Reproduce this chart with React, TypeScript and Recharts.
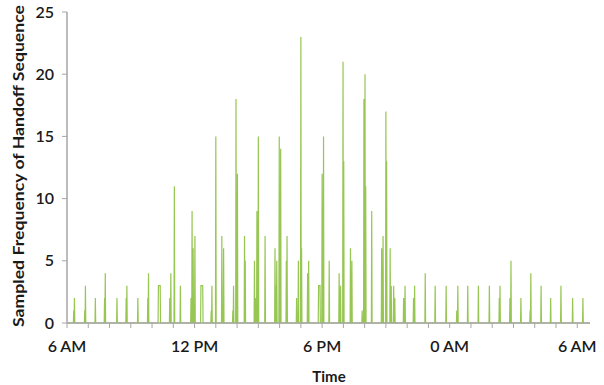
import React from 'react';
import { LineChart, Line, XAxis, YAxis, Label } from 'recharts';

// minutes after 6 AM at which handoffs were sampled, and the count at that minute
const spikeMinute = [
  19, 21, 50, 52, 80, 106, 108, 141, 167, 169, 200, 228, 230,
  258, 259, 260, 261, 262, 263, 290, 293, 303, 320,
  350, 353, 356, 361, 378, 379, 380, 381, 382, 383, 407, 409, 420,
  437, 442, 468, 470, 477, 481, 501, 503, 529, 532, 536, 540, 559,
  587, 590, 592, 599, 603, 619, 621, 648, 653, 660, 662, 679, 682,
  710, 711, 712, 713, 714, 720, 724, 740, 768, 772, 779, 781, 800, 804,
  833, 838, 841, 843, 860, 888, 892, 900, 902, 912, 915, 922, 925,
  950, 954, 978, 981, 1011, 1039, 1070, 1100, 1103, 1131, 1161, 1192,
  1220, 1222, 1250, 1253, 1281, 1307, 1309, 1338, 1365, 1394, 1427, 1456,
];
const spikeCount = [
  1, 2, 1, 3, 2, 2, 4, 2, 2, 3, 2, 2, 4,
  3, 3, 3, 3, 3, 3, 2, 4, 11, 3,
  2, 9, 6, 7, 3, 3, 3, 3, 3, 3, 1, 3, 15,
  7, 6, 1, 3, 18, 12, 7, 5, 5, 2, 9, 15, 7,
  6, 3, 5, 15, 14, 5, 7, 2, 5, 23, 6, 4, 5,
  3, 3, 3, 3, 3, 12, 15, 5, 4, 3, 21, 13, 6, 5,
  1, 18, 20, 11, 9, 6, 7, 17, 13, 6, 3, 3, 2,
  2, 3, 2, 3, 4, 3, 3, 1, 3, 3, 3, 3,
  2, 3, 2, 5, 2, 1, 4, 3, 2, 3, 2, 2,
];
const lastMinute = 1476;

const hourTicks = [
  0, 60, 120, 180, 240, 300, 360, 420, 480, 540, 600, 660, 720,
  780, 840, 900, 960, 1020, 1080, 1140, 1200, 1260, 1320, 1380, 1440,
];
const labelMinutes = [0, 360, 720, 1080, 1440];
const timeLabels = ['6 AM', '12 PM', '6 PM', '0 AM', '6 AM'];
const yTicks = [0, 5, 10, 15, 20, 25];

const data: { m: number; freq: number }[] = [];
for (let m = 0; m <= lastMinute; m++) data.push({ m, freq: 0 });
spikeMinute.forEach((m, i) => {
  data[m].freq = spikeCount[i];
});

const FONT = 'Lato, "Open Sans", sans-serif';
const AXIS = '#a6a6a6';

const formatTime = (v: number) => {
  const i = labelMinutes.indexOf(v);
  return i >= 0 ? timeLabels[i] : '';
};

const YTitle = () => (
  <text
    x={18}
    y={166}
    transform="rotate(-90 18 166)"
    textAnchor="middle"
    dominantBaseline="central"
    fontFamily={FONT}
    fontWeight={700}
    fontSize={15}
    fill="#1a1a1a"
    textLength={322}
    lengthAdjust="spacingAndGlyphs"
  >
    Sampled Frequency of Handoff Sequence
  </text>
);

const XTitle = () => (
  <text
    x={329}
    y={376}
    textAnchor="middle"
    dominantBaseline="central"
    fontFamily={FONT}
    fontWeight={700}
    fontSize={15}
    fill="#1a1a1a"
  >
    Time
  </text>
);

export default function App() {
  return (
    <div style={{ position: 'absolute', left: 0, top: 0, width: 604, height: 385, background: '#fff' }}>
      <LineChart width={604} height={385} data={data} margin={{ top: 12, right: 14, bottom: 0, left: 0 }}>
        <XAxis
          dataKey="m"
          type="number"
          domain={[0, lastMinute]}
          ticks={hourTicks}
          interval={0}
          tickFormatter={formatTime}
          height={62}
          axisLine={{ stroke: AXIS, strokeWidth: 1.5 }}
          tickLine={{ stroke: AXIS }}
          tickSize={5}
          tickMargin={13}
          tick={{ fill: '#1a1a1a', fontSize: 16, fontFamily: FONT, fontWeight: 600 }}
        >
          <Label content={<XTitle />} />
        </XAxis>
        <YAxis
          domain={[0, 25]}
          ticks={yTicks}
          interval={0}
          width={67}
          axisLine={{ stroke: AXIS, strokeWidth: 1.5 }}
          tickLine={{ stroke: AXIS }}
          tickSize={5}
          tickMargin={8}
          tick={{ fill: '#1a1a1a', fontSize: 16, fontFamily: FONT, fontWeight: 600 }}
        >
          <Label content={<YTitle />} />
        </YAxis>
        <Line
          type="linear"
          dataKey="freq"
          stroke="#97c653"
          strokeWidth={1.2}
          dot={false}
          isAnimationActive={false}
        />
      </LineChart>
    </div>
  );
}
